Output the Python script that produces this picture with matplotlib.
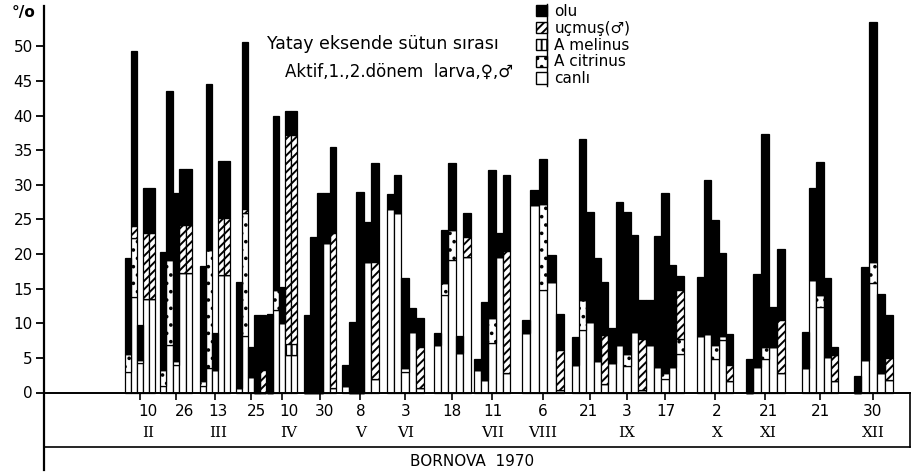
import numpy as np
import matplotlib.pyplot as plt
from matplotlib.patches import Patch

plt.rcParams['font.family'] = ['DejaVu Sans']
plt.rcParams['hatch.linewidth'] = 1.4

# sampling dates and month numerals underneath them
dates = ["10", "26", "13", "25", "10", "30", "8", "3", "18", "11",
         "6", "21", "3", "17", "2", "21", "21", "30"]
months = ["II", "", "III", "", "IV", "", "V", "VI", "", "VII",
          "VIII", "", "IX", "", "X", "XI", "", "XII"]

# one row per date, columns: Aktif, 1. donem, 2. donem larva, female, male  (%)
canli = [
    [3.0, 13.8, 4.2, 13.5, 13.5],
    [0.9, 6.9, 4.0, 17.2, 17.2],
    [0.9, 3.5, 3.3, 17.0, 17.0],
    [0.6, 8.2, 2.3, 0.0, 0.0],
    [0.0, 11.9, 10.0, 5.4, 5.4],
    [0.0, 0.0, 0.0, 21.6, 0.6],
    [1.0, 0.0, 0.0, 18.9, 2.0],
    [26.5, 25.9, 3.0, 8.8, 0.6],
    [6.9, 14.1, 19.2, 5.7, 19.6],
    [3.3, 1.8, 7.1, 19.6, 2.8],
    [8.6, 27.1, 14.8, 16.0, 0.4],
    [4.0, 9.0, 10.2, 4.5, 1.3],
    [4.2, 6.9, 3.9, 8.8, 0.4],
    [6.9, 3.7, 2.0, 3.7, 5.6],
    [8.1, 8.5, 4.9, 7.6, 1.6],
    [0.0, 3.7, 4.9, 6.6, 2.8],
    [3.5, 16.2, 12.4, 5.2, 1.6],
    [0.0, 4.7, 15.8, 2.8, 1.8],
]
citrinus = [
    [2.6, 8.5, 0.5, 0, 0],
    [2.3, 12.2, 0.5, 0, 0],
    [0.7, 17.1, 0, 0, 0],
    [0, 17.7, 0, 0, 0],
    [0, 2.9, 0, 0, 0],
    [0, 0, 0, 0, 0],
    [0, 0, 0, 0, 0],
    [0, 0, 0.5, 0, 0],
    [0, 1.7, 4.3, 0, 0],
    [0, 0, 3.6, 0, 0],
    [0, 0, 12.5, 0, 0],
    [0, 4.4, 0, 0, 0],
    [0, 0, 1.7, 0, 0],
    [0, 0, 0.8, 0, 2.2],
    [0, 0, 1.9, 0.5, 0],
    [0, 0, 1.7, 0, 0],
    [0, 0, 1.7, 0, 0],
    [0, 0, 3.1, 0, 0],
]
melinus = [[0, 0, 0, 0, 0] for _ in range(18)]
melinus[4] = [0, 0, 0, 1.6, 1.6]
ucmus = [
    [0, 1.7, 0, 9.6, 9.6],
    [0, 0, 0, 7.0, 7.0],
    [0, 0, 0, 8.2, 8.2],
    [0, 0.6, 0, 0, 3.3],
    [0, 0, 0, 30.2, 30.2],
    [0, 0, 0, 0, 22.4],
    [0, 0, 0, 0, 16.9],
    [0, 0, 0, 0, 6.0],
    [0, 0, 0, 0, 2.9],
    [0, 0, 0, 0, 17.6],
    [0, 0, 0, 0, 5.7],
    [0, 0, 0, 0, 7.0],
    [0, 0, 0, 0, 7.4],
    [0, 0, 0, 0, 7.0],
    [0, 0, 0, 0, 2.4],
    [0, 0, 0, 0, 7.7],
    [0, 0, 0, 0, 3.8],
    [0, 0, 0, 0, 3.2],
]
olu = [
    [13.8, 25.4, 5.1, 6.5, 6.5],
    [17.1, 24.4, 24.4, 8.1, 8.1],
    [16.7, 24.0, 5.3, 8.2, 8.2],
    [15.3, 24.2, 4.3, 11.2, 7.9],
    [11.4, 25.1, 5.2, 3.5, 3.5],
    [11.2, 22.5, 28.8, 7.2, 12.5],
    [3.0, 10.2, 29.0, 5.8, 14.3],
    [2.2, 5.5, 13.0, 3.4, 4.1],
    [1.7, 7.7, 9.7, 2.4, 3.5],
    [1.6, 11.3, 21.5, 3.4, 11.1],
    [1.9, 2.2, 6.5, 3.9, 5.3],
    [4.0, 23.3, 15.9, 15.0, 7.6],
    [5.1, 20.7, 20.5, 14.0, 5.6],
    [6.5, 18.9, 26.0, 14.7, 2.0],
    [8.6, 22.2, 18.1, 12.0, 4.5],
    [4.9, 13.4, 30.7, 5.8, 10.3],
    [5.3, 13.3, 19.2, 11.3, 1.2],
    [2.4, 13.5, 34.7, 11.5, 6.2],
]

# layout (drawing units = pixels across the sheet)
group_x = [140, 176, 215, 251, 282, 320, 360, 405, 452, 492,
           543, 590, 627, 665, 715, 765, 820, 873]
group_w = [30, 32, 30, 30, 31, 32, 37, 37, 37, 36,
           42, 36, 38, 38, 37, 39, 37, 39]
label_dx = [8, 9, 3, 6, 7, 5, 1, 1, 0, 1, 0, -2, 0, 1, 2, 3, 1, 0]
W, H = 911, 472
Y0, K = 392.5, 6.92       # pixel row of 0 %, pixels per 1 %


def py(row):
    return (Y0 - row) / K


fig = plt.figure(figsize=(W / 100, H / 100), dpi=100)
ax = fig.add_axes([0, 0, 1, 1])
ax.set_xlim(0, W)
ax.set_ylim(py(H), py(0))

# bar positions
xs, ws = [], []
for cx, gw in zip(group_x, group_w):
    bw = gw / 5
    for k in range(5):
        xs.append(cx + (k - 2) * bw)
        ws.append(bw)
xs = np.array(xs)
ws = np.array(ws)

series = [
    (canli, dict(color='white', hatch=None)),
    (citrinus, dict(color='white', hatch='..')),
    (melinus, dict(color='white', hatch='|||')),
    (ucmus, dict(color='white', hatch='////')),
    (olu, dict(color='black', hatch=None)),
]
bottom = np.zeros(len(xs))
for vals, st in series:
    h = np.array(vals, dtype=float).ravel()
    ax.bar(xs, h, width=ws, bottom=bottom, color=st['color'], hatch=st['hatch'],
           edgecolor='black', linewidth=0.9, zorder=2)
    bottom += h

# axes and frame
for s in ['top', 'right']:
    ax.spines[s].set_visible(False)
ax.spines['left'].set_position(('data', 44))
ax.spines['left'].set_bounds(py(470), py(6))
ax.spines['left'].set_linewidth(1.6)
ax.spines['bottom'].set_position(('data', 0))
ax.spines['bottom'].set_bounds(44, 910)
ax.spines['bottom'].set_linewidth(1.4)

ax.set_yticks(np.arange(0, 51, 5))
ax.tick_params(axis='y', direction='out', length=6, width=1.3, pad=2, labelsize=11)
ax.set_xticks(group_x)
ax.set_xticklabels([])
ax.tick_params(axis='x', direction='out', length=5, width=1.2)

for cx, dx, d in zip(group_x, label_dx, dates):
    ax.text(cx + dx, py(411), d, ha='center', va='center', fontsize=11)

ax.plot([44, 910], [py(447), py(447)], color='black', lw=1.2)
ax.plot([910, 910], [0, py(447)], color='black', lw=1.2)

for cx, dx, m in zip(group_x, label_dx, months):
    if m:
        ax.text(cx + dx, py(433), m, ha='center', va='center', fontsize=11,
                family='DejaVu Serif')
ax.text(472, py(462), 'BORNOVA  1970', ha='center', va='center', fontsize=11)
ax.text(12, py(13), '°/o', ha='left', va='center', fontsize=11, fontweight='bold')

ax.text(267, py(44), 'Yatay eksende sütun sırası', ha='left', va='center', fontsize=12.5)
ax.text(285, py(72), 'Aktif,1.,2.dönem  larva,♀,♂', ha='left', va='center', fontsize=12)

handles = [
    Patch(facecolor='black', edgecolor='black'),
    Patch(facecolor='white', edgecolor='black', hatch='////'),
    Patch(facecolor='white', edgecolor='black', hatch='|||'),
    Patch(facecolor='white', edgecolor='black', hatch='..'),
    Patch(facecolor='white', edgecolor='black'),
]
labels = ['olu', 'uçmuş(♂)', 'A melinus', 'A citrinus', 'canlı']
ax.legend(handles, labels, loc='upper left', bbox_to_anchor=(536 / W, 1 - 4 / H),
          frameon=False, fontsize=11, handlelength=0.75, handleheight=0.75,
          handletextpad=0.45, labelspacing=0.12, borderpad=0, borderaxespad=0)
ax.plot([547, 547], [py(4), py(86)], color='black', lw=1)

fig.savefig('out.png', dpi=100)
